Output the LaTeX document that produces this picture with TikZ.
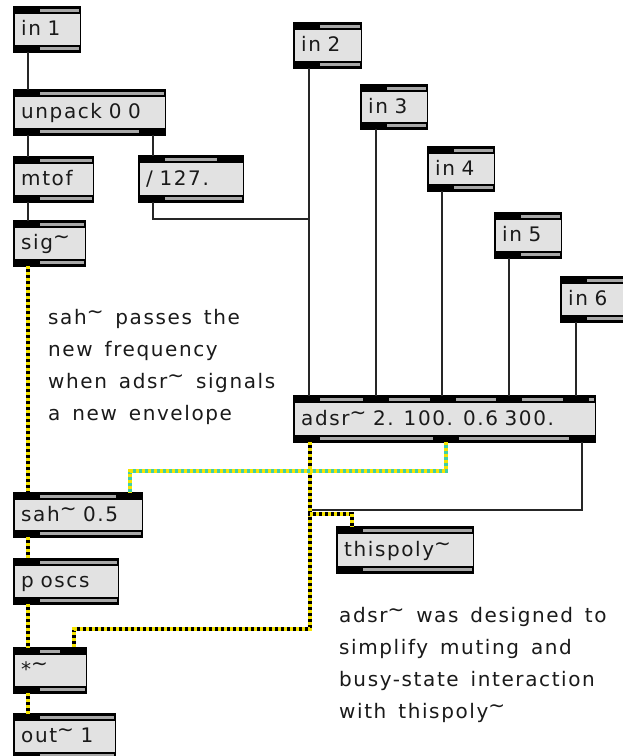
\documentclass[tikz,border=0pt]{standalone}
\usepackage{fontspec}
\setmainfont{DejaVu Sans}[LetterSpace=8, WordSpace=1.7]
\newfontfamily\cmtfont{DejaVu Sans}[LetterSpace=8, WordSpace=1.5]
\usetikzlibrary{calc}
\definecolor{boxgray}{HTML}{E2E2E2}
\definecolor{stripgray}{HTML}{A8A8A8}
\definecolor{txt}{HTML}{1A1A1A}
\definecolor{sigyellow}{HTML}{F5E400}
\definecolor{sigcyan}{HTML}{3FCFA8}
\newcommand{\tld}{\raisebox{0.3em}{\textasciitilde}}
\tikzset{
  mxbox/.style={fill=boxgray, draw=none, inner xsep=7pt, inner ysep=0pt, align=left,
    text height=15pt, text depth=3pt, text=txt, font=\fontsize{20}{24}\selectfont},
  thincord/.style={line width=1.7pt, draw=black!85, line join=miter},
  sigcord/.style={line width=3.2pt, draw=sigyellow, dash pattern=on 3pt off 3pt, line join=miter,
    preaction={draw=black, line width=3.2pt, solid}},
  cyancord/.style={line width=3.2pt, draw=sigyellow, dash pattern=on 3pt off 3pt, line join=miter,
    preaction={draw=sigcyan, line width=3.2pt, solid}},
  comment/.style={align=left, inner sep=0pt, text=txt, font=\cmtfont\fontsize{20}{31.7}\selectfont}
}
% name, x1, y1, x2, y2, text, inlet lefts, outlet lefts
\newcommand{\mxobj}[8]{%
  \pgfmathsetmacro\mxw{#4-#2}%
  \pgfmathsetmacro\mxh{#5-#3}%
  \pgfmathsetmacro\mxtw{#4-#2-14}%
  \node[mxbox, anchor=north west, minimum width=\mxw pt, minimum height=\mxh pt, text width=\mxtw pt] (#1) at (#2,#3) {#6};
  \fill[black] (#2,#3) rectangle (#4,#3+7);
  \fill[stripgray] (#2+1.5,#3+2.3) rectangle (#4-1.5,#3+4.7);
  \foreach \p in {#7} {\fill[black] (\p,#3) rectangle (\p+26,#3+7);}
  \fill[black] (#2,#5-7) rectangle (#4,#5);
  \fill[stripgray] (#2+1.5,#5-4.7) rectangle (#4-1.5,#5-2.3);
  \foreach \p in {#8} {\fill[black] (\p,#5-7) rectangle (\p+26,#5);}
  \draw[line width=1.4pt, black] (#1.north west) rectangle (#1.south east);
}
\begin{document}
\begin{tikzpicture}[x=1pt,y=-1pt]
\useasboundingbox (0,0) rectangle (623,756);
\fill[white] (0,0) rectangle (623,756);

\mxobj{in1}{14}{7}{80}{52}{in 1}{14}{14}
\mxobj{unpack}{14}{90}{165}{135}{unpack 0 0}{14}{14,139}
\mxobj{mtof}{14}{157}{93}{202}{mtof}{14}{14}
\mxobj{div}{139}{156}{243}{202}{/ 127.}{139,217}{139}
\mxobj{sig}{14}{221}{85}{266}{sig\tld}{14}{14}
\mxobj{in2}{294}{23}{361}{68}{in 2}{294}{294}
\mxobj{in3}{361}{85}{427}{129}{in 3}{361}{361}
\mxobj{in4}{428}{147}{494}{191}{in 4}{428}{428}
\mxobj{in5}{495}{213}{561}{258}{in 5}{495}{495}
\mxobj{in6}{561}{277}{627}{322}{in 6}{561}{561}
\mxobj{adsr}{294}{396}{595}{442}{adsr\tld{} 2. 100. 0.6 300.}{294,363,430,496,563}{294,433,569}
\mxobj{sah}{14}{493}{142}{537}{sah\tld{} 0.5}{14,116}{14}
\mxobj{poscs}{14}{559}{118}{604}{p oscs}{14}{14}
\mxobj{mul}{14}{648}{86}{693}{*\tld}{14,60}{14}
\mxobj{out}{14}{714}{115}{759}{out\tld{} 1}{14}{14}
\mxobj{thispoly}{337}{527}{473}{573}{thispoly\tld}{337}{337}

% thin cords
\draw[thincord] (28,0 |- in1.south) -- (28,0 |- unpack.north);
\draw[thincord] (28,0 |- unpack.south) -- (28,0 |- mtof.north);
\draw[thincord] (153,0 |- unpack.south) -- (153,0 |- div.north);
\draw[thincord] (28,0 |- mtof.south) -- (28,0 |- sig.north);
\draw[thincord] (153,0 |- div.south) -- (153,219) -- (309,219) -- (309,0 |- adsr.north);
\draw[thincord] (309,0 |- in2.south) -- (309,0 |- adsr.north);
\draw[thincord] (376,0 |- in3.south) -- (376,0 |- adsr.north);
\draw[thincord] (442,0 |- in4.south) -- (442,0 |- adsr.north);
\draw[thincord] (509,0 |- in5.south) -- (509,0 |- adsr.north);
\draw[thincord] (576,0 |- in6.south) -- (576,0 |- adsr.north);
\draw[thincord] (582,0 |- adsr.south) -- (582,510) -- (311,510) -- (311,514) -- (352,514) -- (352,0 |- thispoly.north);

% signal cords
\draw[sigcord] (28,0 |- sig.south) -- (28,0 |- sah.north);
\draw[sigcord] (28,0 |- sah.south) -- (28,0 |- poscs.north);
\draw[sigcord] (28,0 |- poscs.south) -- (28,0 |- mul.north);
\draw[sigcord] (28,0 |- mul.south) -- (28,0 |- out.north);
\draw[sigcord] (310,0 |- adsr.south) -- (310,629) -- (74,629) -- (74,0 |- mul.north);
\draw[sigcord] (310,0 |- adsr.south) -- (310,514) -- (352,514) -- (352,0 |- thispoly.north);
\draw[cyancord] (446,0 |- adsr.south) -- (446,471) -- (130,471) -- (130,0 |- sah.north);

% comments (base anchor = last line's baseline)
\node[comment, anchor=base west] (c1) at (48,420) {sah\tld{} passes the\\new frequency\\when adsr\tld{} signals\\a new envelope};
\node[comment, anchor=base west] (c2) at (339,718) {adsr\tld{} was designed to\\simplify muting and\\busy-state interaction\\with thispoly\tld};
\end{tikzpicture}
\end{document}
